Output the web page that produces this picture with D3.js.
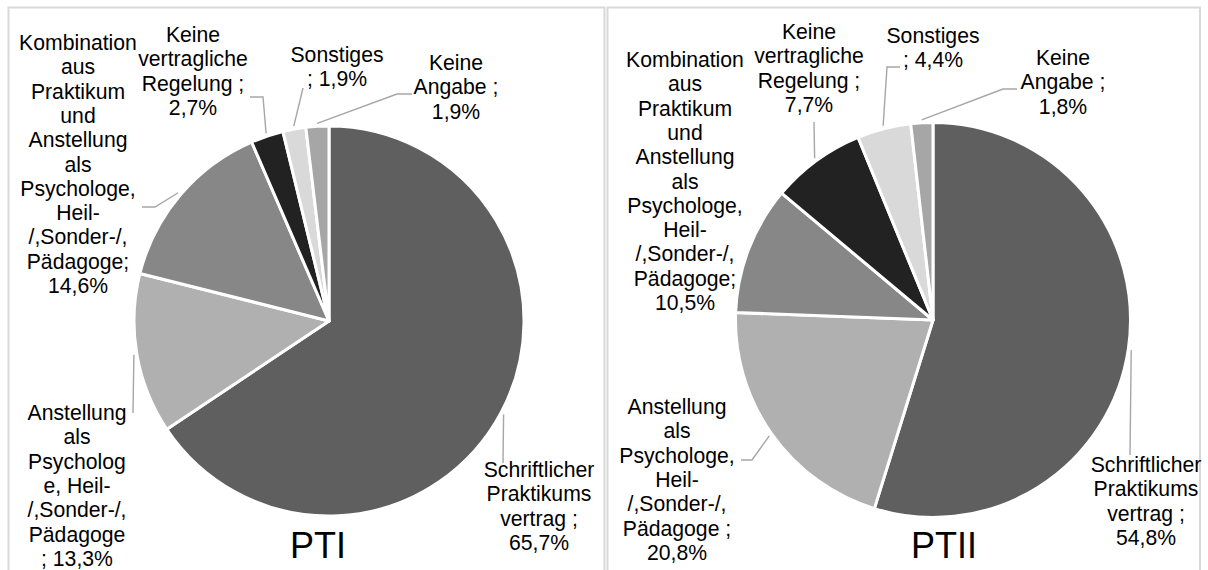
<!DOCTYPE html>
<html>
<head>
<meta charset="utf-8">
<script src="https://cdn.jsdelivr.net/npm/d3@7/dist/d3.min.js"></script>
<style>
  html, body { margin: 0; padding: 0; background: #fff; }
  svg { display: block; }
  text { font-family: "Liberation Sans", Arial, sans-serif; fill: #000; }
</style>
</head>
<body>
<svg id="chart" width="1208" height="570"></svg>
<script>
// ---- data ----
const categories = [
  "Schriftlicher Praktikumsvertrag",
  "Anstellung als Psychologe, Heil-/Sonder-/Pädagoge",
  "Kombination aus Praktikum und Anstellung",
  "Keine vertragliche Regelung",
  "Sonstiges",
  "Keine Angabe"
];
const valuesPTI  = [65.7, 13.3, 14.6, 2.7, 1.9, 1.9];
const valuesPTII = [54.8, 20.8, 10.5, 7.7, 4.4, 1.8];
const titles = ["PTI", "PTII"];

// wrapped label texts ({v} = value of the slice)
const labelLinesPTI = [
  ["Schriftlicher", "Praktikums", "vertrag ;", "{v}"],
  ["Anstellung", "als", "Psycholog", "e, Heil-", "/,Sonder-/,", "Pädagoge", "; {v}"],
  ["Kombination", "aus", "Praktikum", "und", "Anstellung", "als", "Psychologe,", "Heil-", "/,Sonder-/,", "Pädagoge;", "{v}"],
  ["Keine", "vertragliche", "Regelung ;", "{v}"],
  ["Sonstiges", "; {v}"],
  ["Keine", "Angabe ;", "{v}"]
];
const labelLinesPTII = [
  ["Schriftlicher", "Praktikums", "vertrag ;", "{v}"],
  ["Anstellung", "als", "Psychologe,", "Heil-", "/,Sonder-/,", "Pädagoge ;", "{v}"],
  ["Kombination", "aus", "Praktikum", "und", "Anstellung", "als", "Psychologe,", "Heil-", "/,Sonder-/,", "Pädagoge;", "{v}"],
  ["Keine", "vertragliche", "Regelung ;", "{v}"],
  ["Sonstiges", "; {v}"],
  ["Keine", "Angabe ;", "{v}"]
];

// ---- styles / layout ----
const colors = ["#5f5f5f", "#b0b0b0", "#878787", "#222222", "#d9d9d9", "#a6a6a6"];
const fontSize = 21.2, lineH = 24.3;

const layouts = [
  {
    cx: 329, cy: 321, r: 195, titleX: 318, titleY: 558,
    labels: [
      { x: 539, y: 477, leader: [[503, 463]] },
      { x: 77,  y: 420, leader: [[133, 413]] },
      { x: 78,  y: 50,  leader: [[142, 207], [155, 207]] },
      { x: 193, y: 42,  leader: [[250, 97], [263, 97]] },
      { x: 337, y: 62,  leader: [[303, 88]] },
      { x: 456, y: 70,  leader: [[412, 94], [397, 94]] }
    ]
  },
  {
    cx: 933, cy: 320, r: 197.5, titleX: 944, titleY: 558,
    labels: [
      { x: 1146, y: 472, leader: [[1130, 455]] },
      { x: 677,  y: 414, leader: [[741, 460], [752, 460]] },
      { x: 685,  y: 67,  leader: null },
      { x: 809,  y: 39,  leader: [[814, 122]] },
      { x: 933,  y: 43,  leader: [[900, 67], [887, 67]] },
      { x: 1063, y: 65,  leader: [[1017, 89], [1003, 89]] }
    ]
  }
];

const series = [valuesPTI, valuesPTII];
const labelSets = [labelLinesPTI, labelLinesPTII];
const fmt = v => d3.format(".1f")(v).replace(".", ",") + "%";

const svg = d3.select("#chart");

// panel frames
const panels = [[8.5, 7.5, 596, 600], [607.5, 7.5, 592.5, 600]];
svg.selectAll("rect.panel").data(panels).join("rect")
  .attr("class", "panel")
  .attr("x", d => d[0]).attr("y", d => d[1])
  .attr("width", d => d[2]).attr("height", d => d[3])
  .attr("fill", "none").attr("stroke", "#d9d9d9").attr("stroke-width", 2);

const pie = d3.pie().sort(null).value(d => d);

series.forEach((vals, ci) => {
  const L = layouts[ci];
  const g = svg.append("g");
  const arcs = pie(vals);
  const arc = d3.arc().innerRadius(0).outerRadius(L.r);

  g.append("g").attr("transform", `translate(${L.cx},${L.cy})`)
    .selectAll("path").data(arcs).join("path")
    .attr("d", arc)
    .attr("fill", (d, i) => colors[i])
    .attr("stroke", "#fff").attr("stroke-width", 3).attr("stroke-linejoin", "round");

  // leader lines
  arcs.forEach((a, i) => {
    const lab = L.labels[i];
    if (!lab.leader) return;
    const mid = (a.startAngle + a.endAngle) / 2;
    const rr = L.r + 3;
    const p = [L.cx + rr * Math.sin(mid), L.cy - rr * Math.cos(mid)];
    const pts = lab.leader.concat([p]);
    g.append("path")
      .attr("d", d3.line()(pts))
      .attr("fill", "none").attr("stroke", "#a6a6a6").attr("stroke-width", 1.4);
  });

  // labels
  arcs.forEach((a, i) => {
    const lab = L.labels[i];
    const lines = labelSets[ci][i].map(s => s.replace("{v}", fmt(vals[i])));
    const t = g.append("text")
      .attr("text-anchor", "middle")
      .attr("font-size", fontSize);
    lines.forEach((s, k) => {
      t.append("tspan").attr("x", lab.x).attr("y", lab.y + k * lineH).text(s);
    });
  });

  g.append("text")
    .attr("x", L.titleX).attr("y", L.titleY)
    .attr("text-anchor", "middle")
    .attr("font-size", 36)
    .text(titles[ci]);
});
</script>
</body>
</html>
